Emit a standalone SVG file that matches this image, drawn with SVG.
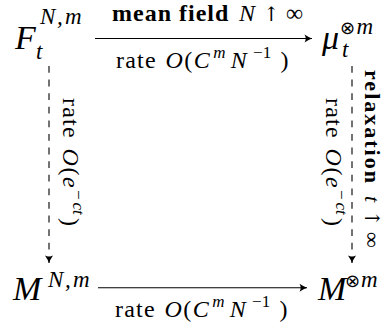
<svg xmlns="http://www.w3.org/2000/svg" width="385" height="329" viewBox="0 0 385 329">
  <defs>
    <style>
      text { font-family: "Liberation Serif", "DejaVu Serif", serif; fill: #000; }
      .node { font-size: 34px; font-style: italic; }
      .ns { font-size: 23px; font-style: italic; }
      .lbl { font-size: 24px; }
      .rl { font-size: 22px; }
      .it { font-style: italic; }
      .b { font-weight: bold; }
      .s { font-size: 17px; }
      .arr { font-family: "DejaVu Serif", serif; font-weight: normal; font-size: 20px; }
      .otimes { font-family: "DejaVu Sans", sans-serif; font-style: normal; font-size: 18px; }
      .edge { fill: none; stroke: #000; stroke-width: 1.1; }
      .dash { stroke-dasharray: 6.8 6.8; }
    </style>
    <marker id="head" viewBox="-8 -5 9 10" refX="0" refY="0" markerWidth="9" markerHeight="10" markerUnits="userSpaceOnUse" orient="auto">
      <path d="M0,0 Q-3,-1 -7.5,-4 Q-5.2,0 -7.5,4 Q-3,1 0,0 Z" fill="#000" stroke="none"/>
    </marker>
  </defs>

  <g id="node-F">
    <text class="node" y="49"><tspan x="15">F</tspan><tspan class="ns" x="36" y="59">t</tspan><tspan class="ns" x="40" y="24">N</tspan><tspan class="ns" x="57" y="24">,</tspan><tspan class="ns" x="65" y="24">m</tspan></text>
  </g>

  <g id="node-mu">
    <text class="node" y="48.5"><tspan x="322">μ</tspan><tspan class="ns" x="342" y="57">t</tspan><tspan class="otimes" x="340" y="34">⊗</tspan><tspan class="ns" x="356.5" y="34">m</tspan></text>
  </g>

  <g id="node-MN">
    <text class="node" y="300"><tspan x="13">M</tspan><tspan class="ns" x="48" y="287">N</tspan><tspan class="ns" x="65" y="287">,</tspan><tspan class="ns" x="73" y="287">m</tspan></text>
  </g>

  <g id="node-Mm">
    <text class="node" y="300"><tspan x="318">M</tspan><tspan class="otimes" x="345" y="287">⊗</tspan><tspan class="ns" x="361" y="287">m</tspan></text>
  </g>

  <g id="connectors">
    <g id="edge-F-mu">
      <path class="edge" d="M95,38.5 H312" marker-end="url(#head)"/>
      <text class="lbl" y="21"><tspan class="b" x="112" letter-spacing="1">mean field</tspan><tspan class="it" x="239">N</tspan><tspan class="arr" x="263">↑</tspan><tspan x="286">∞</tspan></text>
      <text class="lbl" y="68"><tspan x="116" letter-spacing="1.2">rate</tspan><tspan class="it" x="165.6">O</tspan><tspan x="184.3">(</tspan><tspan class="it" x="193.8">C</tspan><tspan class="it s" x="213.2" y="58">m</tspan><tspan class="it" x="230.7" y="68">N</tspan><tspan class="s" x="253.1" y="58">−1</tspan><tspan x="280.5" y="68">)</tspan></text>
    </g>
    <g id="edge-MN-Mm">
      <path class="edge" d="M98,287.7 H307" marker-end="url(#head)"/>
      <text class="lbl" y="317"><tspan x="115" letter-spacing="1.2">rate</tspan><tspan class="it" x="164.6">O</tspan><tspan x="183.3">(</tspan><tspan class="it" x="192.8">C</tspan><tspan class="it s" x="212.2" y="307">m</tspan><tspan class="it" x="229.7" y="317">N</tspan><tspan class="s" x="252.1" y="307">−1</tspan><tspan x="279.5" y="317">)</tspan></text>
    </g>
    <g id="edge-F-MN">
      <path class="edge dash" d="M49,66 V263" marker-end="url(#head)"/>
      <text class="lbl" transform="translate(63,98) rotate(90)" y="0"><tspan x="0" letter-spacing="1.2">rate</tspan><tspan class="it" x="50.4">O</tspan><tspan x="69.4">(</tspan><tspan class="it" x="79">e</tspan><tspan class="s" x="92" y="-10">−</tspan><tspan class="it s" x="104.5" y="-10">ct</tspan><tspan x="120" y="0">)</tspan></text>
    </g>
    <g id="edge-mu-Mm">
      <path class="edge dash" d="M352,66 V263" marker-end="url(#head)"/>
      <text class="lbl" transform="translate(326,98) rotate(90)" y="0"><tspan x="0" letter-spacing="1.2">rate</tspan><tspan class="it" x="50.4">O</tspan><tspan x="69.4">(</tspan><tspan class="it" x="79">e</tspan><tspan class="s" x="92" y="-10">−</tspan><tspan class="it s" x="104.5" y="-10">ct</tspan><tspan x="120" y="0">)</tspan></text>
      <text class="lbl rl" transform="translate(365,70) rotate(90)" y="0"><tspan class="b" x="0" letter-spacing="2">relaxation</tspan><tspan class="it" x="125.9">t</tspan><tspan class="arr" x="140">↑</tspan><tspan x="162">∞</tspan></text>
    </g>
  </g>
</svg>
